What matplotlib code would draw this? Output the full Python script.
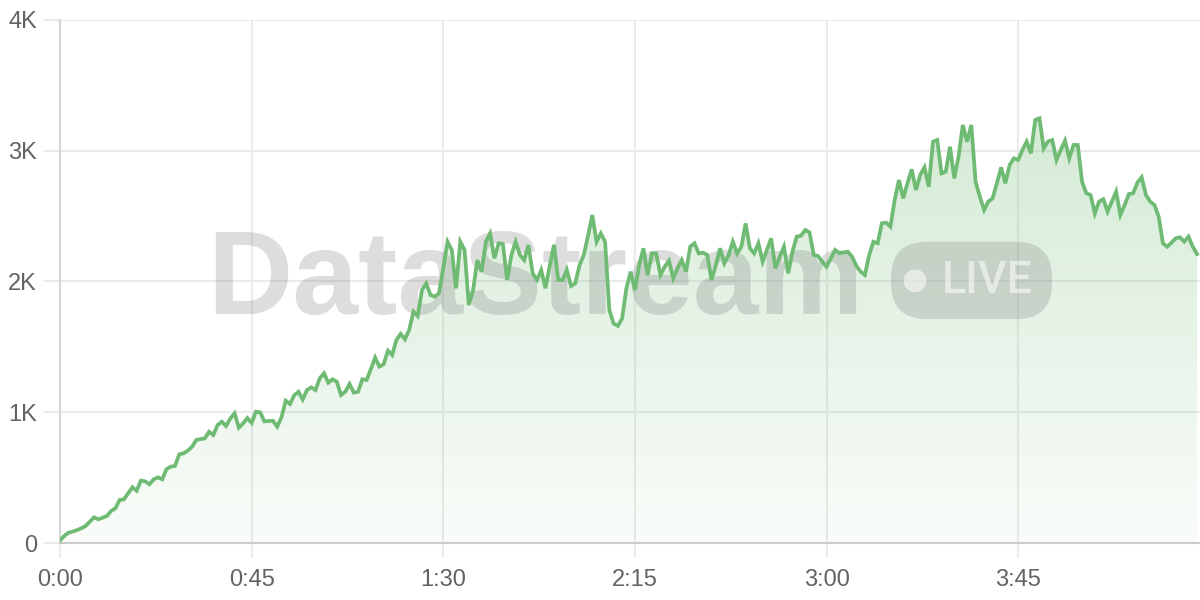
import matplotlib
matplotlib.use("Agg")
import matplotlib.pyplot as plt
from matplotlib.patches import FancyBboxPatch, Ellipse
import numpy as np

# viewers per minute (one point per minute)
viewers = [
    20, 54, 79, 87, 99, 112, 130, 163, 196, 181,
    193, 206, 245, 265, 329, 334, 380, 426, 400, 477,
    472, 449, 487, 502, 487, 564, 584, 589, 678, 686,
    706, 736, 788, 795, 800, 851, 826, 902, 928, 895,
    953, 992, 882, 915, 956, 918, 1004, 999, 930, 933,
    935, 890, 960, 1088, 1063, 1130, 1157, 1098, 1170, 1190,
    1170, 1260, 1298, 1226, 1252, 1234, 1132, 1157, 1216, 1150,
    1157, 1252, 1247, 1330, 1418, 1349, 1367, 1471, 1438, 1553,
    1599, 1558, 1630, 1770, 1736, 1935, 1986, 1897, 1884, 1910,
    2100, 2304, 2241, 1948, 2304, 2241, 1820, 1935, 2164, 2075,
    2304, 2368, 2177, 2292, 2287, 2011, 2203, 2304, 2203, 2164,
    2279, 2062, 2011, 2088, 1948, 2120, 2280, 2011, 2011, 2088,
    1966, 1986, 2126, 2203, 2350, 2508, 2304, 2368, 2304, 1782,
    1679, 1660, 1718, 1948, 2075, 1935, 2126, 2254, 2050, 2215,
    2215, 2050, 2113, 2159, 2024, 2101, 2164, 2075, 2266, 2292,
    2215, 2220, 2203, 2011, 2126, 2254, 2139, 2203, 2304, 2215,
    2266, 2444, 2254, 2215, 2292, 2152, 2241, 2330, 2101, 2190,
    2266, 2062, 2228, 2343, 2350, 2394, 2376, 2203, 2195, 2152,
    2113, 2177, 2241, 2216, 2222, 2228, 2190, 2120, 2075, 2050,
    2200, 2304, 2292, 2445, 2450, 2419, 2623, 2776, 2636, 2751,
    2858, 2700, 2815, 2873, 2725, 3069, 3082, 2827, 2840, 3031,
    2789, 2955, 3197, 3069, 3197, 2764, 2649, 2547, 2611, 2636,
    2751, 2873, 2751, 2891, 2942, 2930, 3006, 3070, 2980, 3235,
    3248, 3018, 3070, 3082, 2929, 3006, 3077, 2942, 3044, 3044,
    2764, 2675, 2662, 2521, 2611, 2629, 2535, 2611, 2687, 2509,
    2585, 2669, 2675, 2756, 2797, 2662, 2611, 2585, 2496, 2292,
    2266, 2297, 2330, 2338, 2305, 2343, 2266, 2210,
]
minutes = np.arange(len(viewers))

x_ticks = [0, 45, 90, 135, 180, 225]
x_labels = ["0:00", "0:45", "1:30", "2:15", "3:00", "3:45"]
y_ticks = [0, 1000, 2000, 3000, 4000]
y_labels = ["0", "1K", "2K", "3K", "4K"]

green = "#6fbb74"
grid = "#ebebeb"

fig = plt.figure(figsize=(12, 6), dpi=100)
ax = fig.add_axes([0.05, 0.095, 0.95, 0.8717])
ax.set_xlim(0, len(viewers) - 0.3)
ax.set_ylim(0, 4000)

# gradient fill under the line
poly = ax.fill_between(minutes, viewers, 0, color="none", lw=0)
grad = np.linspace(0.04, 0.30, 256).reshape(-1, 1)
rgba = np.zeros((256, 1, 4))
rgba[..., 0] = 0.43
rgba[..., 1] = 0.73
rgba[..., 2] = 0.45
rgba[..., 3] = grad
im = ax.imshow(rgba, extent=[0, len(viewers), 0, 3300], origin="lower",
               aspect="auto", zorder=1)
im.set_clip_path(poly.get_paths()[0], transform=ax.transData)

ax.plot(minutes, viewers, color=green, lw=2.7, zorder=5,
        solid_joinstyle="miter")

ax.set_xticks(x_ticks)
ax.set_xticklabels(x_labels)
ax.set_yticks(y_ticks)
ax.set_yticklabels(y_labels)
ax.grid(True, color=grid, lw=1.5, zorder=0)
ax.set_axisbelow(True)
ax.tick_params(axis="x", length=11, width=1.5, color=grid, pad=8)
ax.tick_params(axis="y", length=11.5, width=1.5, color=grid, pad=5)
for lab in ax.get_xticklabels() + ax.get_yticklabels():
    lab.set_fontfamily("Liberation Sans")
    lab.set_fontsize(17)
    lab.set_color("#636363")

for s in ["top", "right"]:
    ax.spines[s].set_visible(False)
ax.spines["left"].set_color("#d6d6d6")
ax.spines["left"].set_linewidth(1.5)
ax.spines["bottom"].set_color("#cccccc")
ax.spines["bottom"].set_linewidth(1.5)

# watermark, between the fill and the line
wm = (0.45, 0.45, 0.45, 0.24)
ax.text(0.446, 0.528, "DataStream", fontsize=85, fontweight="bold",
        family="Liberation Sans", color=wm, ha="center", va="center",
        transform=fig.transFigure, zorder=2, clip_on=False)
badge = FancyBboxPatch((0.7425 + 0.02, 0.478 + 0.03), 0.1342 - 0.04, 0.109 - 0.06,
                       boxstyle="round,pad=0.02,rounding_size=0.03",
                       transform=fig.transFigure, facecolor=wm, edgecolor="none",
                       zorder=2, mutation_aspect=2, clip_on=False)
ax.add_patch(badge)
ax.add_patch(Ellipse((0.7625, 0.532), 0.019, 0.038, transform=fig.transFigure,
                     facecolor=(1, 1, 1, 0.55), edgecolor="none", zorder=3,
                     clip_on=False))
ax.text(0.8225, 0.532, "LIVE", fontsize=32, family="Roboto", fontweight="medium",
        color=(1, 1, 1, 0.55), ha="center", va="center",
        transform=fig.transFigure, zorder=3, clip_on=False)

fig.savefig("out.png", dpi=100)
